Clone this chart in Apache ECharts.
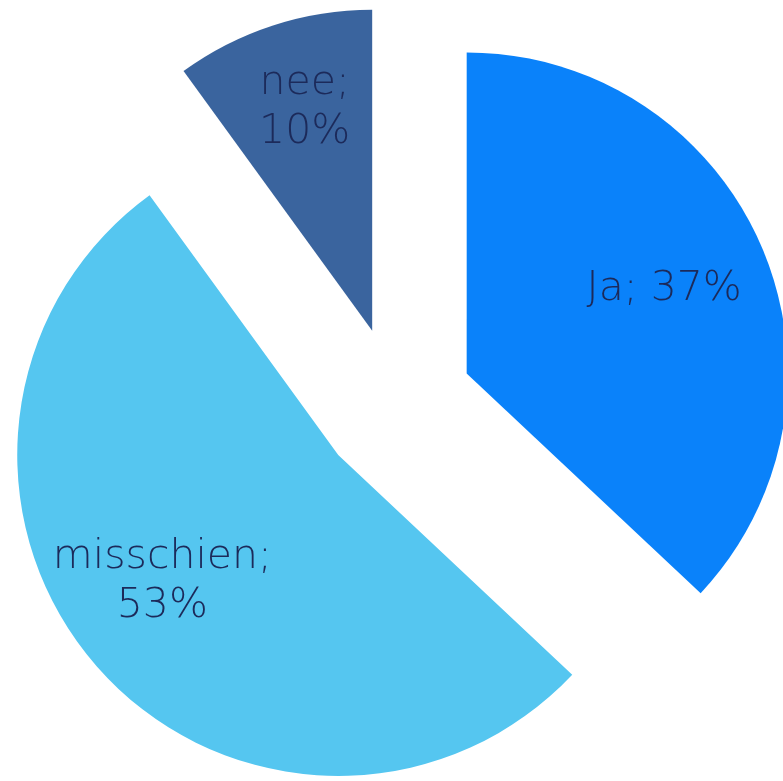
<!DOCTYPE html>
<html>
<head>
<meta charset="utf-8">
<script src="https://cdn.jsdelivr.net/npm/echarts@6/dist/echarts.min.js"></script>
<style>html,body{margin:0;padding:0;background:#fff;}#c{width:783px;height:781px;}</style>
</head>
<body>
<div id="c"></div>
<script>
const categories = ['Ja', 'misschien', 'nee'];
const values = [37, 53, 10];
const colors = ['#0A82FA', '#55C6F0', '#3A649E'];

const chart = echarts.init(document.getElementById('c'), null, {renderer: 'canvas'});
const center = [396, 404];
const R = 321;
const offset = 77;
const labelShift = [[-3, 3], [-12, -18], [0, -15]];

const sliceData = categories.map((n, i) => ({
  name: n, value: values[i], selected: true,
  itemStyle: {color: colors[i]}
}));
const labelData = categories.map((n, i) => ({
  name: n, value: values[i], selected: true
}));

chart.setOption({
  animation: false,
  backgroundColor: '#ffffff',
  series: [
    {
      type: 'pie',
      center: center,
      radius: [0, R],
      startAngle: 90,
      clockwise: true,
      selectedMode: 'multiple',
      selectedOffset: offset,
      avoidLabelOverlap: false,
      silent: true,
      emphasis: {disabled: true},
      label: {show: false},
      labelLine: {show: false},
      itemStyle: {borderWidth: 0},
      data: sliceData
    },
    {
      type: 'pie',
      center: center,
      radius: [110, R],
      startAngle: 90,
      clockwise: true,
      selectedMode: 'multiple',
      selectedOffset: offset,
      avoidLabelOverlap: false,
      silent: true,
      emphasis: {disabled: true},
      itemStyle: {color: 'rgba(0,0,0,0)', borderWidth: 0},
      labelLine: {show: false},
      labelLayout: function (params) {
        const s = labelShift[params.dataIndex] || [0, 0];
        return {dx: s[0], dy: s[1]};
      },
      label: {
        show: true,
        position: 'inside',
        fontFamily: '"DejaVu Sans", sans-serif',
        fontWeight: 200,
        fontSize: 41,
        lineHeight: 49,
        color: '#1C2A5A',
        align: 'center',
        formatter: function (p) {
          return p.name === 'Ja' ? p.name + '; ' + p.value + '%' : p.name + ';\n' + p.value + '%';
        }
      },
      data: labelData
    }
  ]
});
</script>
</body>
</html>
